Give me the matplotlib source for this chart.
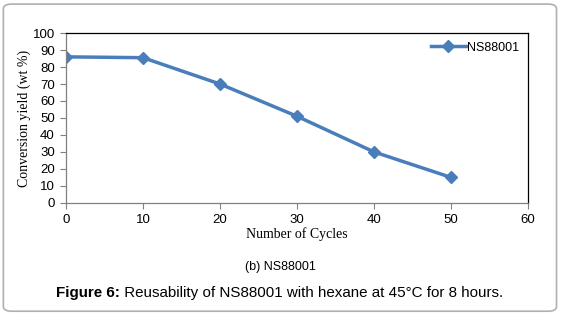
import matplotlib.pyplot as plt
from matplotlib.patches import FancyBboxPatch

cycles = [0, 10, 20, 30, 40, 50]
yield_pct = [86, 85.5, 70, 51, 30, 15]
series_name = "NS88001"

blue = "#4a7ebb"

fig = plt.figure(figsize=(5.61, 3.15), dpi=100)
fig.patch.set_facecolor("white")

# rounded frame around the whole figure
frame = FancyBboxPatch((0.006, 0.012), 0.986, 0.975,
                       boxstyle="round,pad=0,rounding_size=0.015",
                       transform=fig.transFigure, facecolor="none",
                       edgecolor="#b0b0b0", linewidth=1.2, zorder=-1)
fig.patches.append(frame)

ax = fig.add_axes([0.1176, 0.356, 0.8236, 0.539])
ax.plot(cycles, yield_pct, color=blue, linewidth=2.5, marker="D",
        markersize=6, label=series_name)

ax.set_xlim(0, 60)
ax.set_ylim(0, 100)
ax.set_xticks(range(0, 61, 10))
ax.set_yticks(range(0, 101, 10))
ax.tick_params(labelsize=9.5, length=4, color="#808080", width=0.8, pad=4)
for lab in ax.get_xticklabels() + ax.get_yticklabels():
    lab.set_fontfamily("Liberation Sans")

for s in ["left", "bottom"]:
    ax.spines[s].set_color("#808080")
for s in ["top", "right"]:
    ax.spines[s].set_color("black")
for s in ax.spines.values():
    s.set_linewidth(0.9)

ax.set_xlabel("Number of Cycles", fontfamily="Liberation Serif", fontsize=10, labelpad=1)
ax.set_ylabel("Conversion yield (wt %)", fontfamily="Liberation Serif", fontsize=10, labelpad=1)

leg = ax.legend(loc="upper right", frameon=False,
                prop={"family": "Liberation Sans", "size": 9},
                handlelength=2.8, borderaxespad=0.3, handletextpad=0.1)

fig.text(0.5, 0.152, "(b) NS88001", ha="center", va="center",
         fontfamily="Liberation Sans", fontsize=9)

# caption: bold "Figure 6:" followed by regular text, centred as a whole
cap_size = 10.9
bold_part = fig.text(0, 0.07, "Figure 6:", ha="left", va="center",
                     fontfamily="Liberation Sans", fontsize=cap_size, fontweight="bold")
rest_part = fig.text(0, 0.07, " Reusability of NS88001 with hexane at 45°C for 8 hours.",
                     ha="left", va="center", fontfamily="Liberation Sans", fontsize=cap_size)
fig.canvas.draw()
w1 = bold_part.get_window_extent().width
w2 = rest_part.get_window_extent().width
x0 = (280 - (w1 + w2) / 2) / 561
bold_part.set_x(x0)
rest_part.set_x(x0 + w1 / 561)

fig.savefig("out.png", dpi=100)
